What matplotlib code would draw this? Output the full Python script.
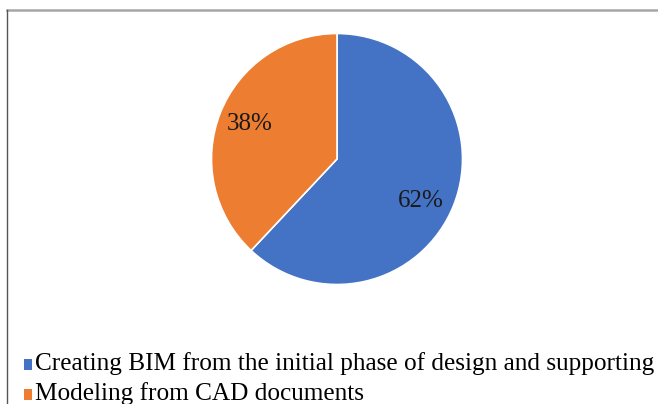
import matplotlib
matplotlib.use("Agg")
import numpy as np
import matplotlib.pyplot as plt
from matplotlib.lines import Line2D

labels = ["Creating BIM from the initial phase of design and supporting",
          "Modeling from CAD documents"]
shares = [62, 38]
colors = ["#4472C4", "#ED7D31"]

W, H = 658, 404
fig = plt.figure(figsize=(W / 100, H / 100), dpi=100)
plt.rcParams['font.family'] = ['Liberation Serif', 'DejaVu Serif']

# pie centred at (337, 159) px
cx, cy, r = 337, 159, 125.5
ax = fig.add_axes([(cx - r) / W, 1 - (cy + r) / H, 2 * r / W, 2 * r / H])
wedges, _, autotexts = ax.pie(shares, colors=colors, startangle=90, counterclock=False,
                              autopct="%d%%", pctdistance=0.75,
                              wedgeprops=dict(edgecolor="white", linewidth=1.2),
                              textprops=dict(fontsize=18, color="#1a1a1a"))
# Excel-like label placement: the big slice label sits a little lower
w = wedges[0]
ang = np.deg2rad((w.theta1 + w.theta2) / 2 - 5)
autotexts[0].set_position((0.75 * np.cos(ang), 0.75 * np.sin(ang)))
ax.set_xlim(-1.0, 1.0)
ax.set_ylim(-1.0, 1.0)
ax.axis("off")

# chart frame (only top and left edges visible in the crop)
fig.add_artist(Line2D([7 / W, 1], [1 - 9.5 / H] * 2, transform=fig.transFigure,
                      color="#a6a6a6", linewidth=1.8))
fig.add_artist(Line2D([7 / W] * 2, [0, 1 - 9.5 / H], transform=fig.transFigure,
                      color="#555555", linewidth=1.0))

fig.legend(wedges, labels, loc="upper left", bbox_to_anchor=(24 / W, 1 - 352 / H),
           frameon=False, fontsize=18.2, handlelength=0.3, handleheight=0.3,
           handletextpad=0.14, labelspacing=0.28, borderpad=0, borderaxespad=0)
for h in fig.legends[0].legend_handles:
    h.set_edgecolor("none")
    h.set_y(h.get_y() - 2.5)  # line the squares up with the cap height

fig.savefig("out.png", dpi=100)
